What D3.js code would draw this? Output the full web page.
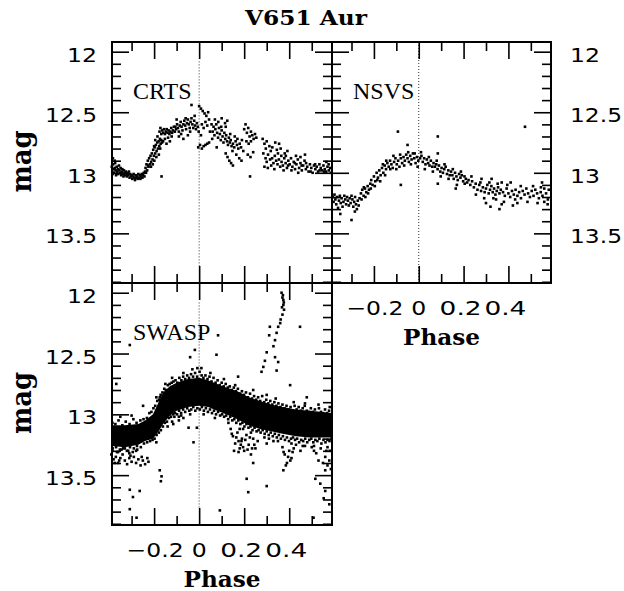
<!DOCTYPE html>
<html><head><meta charset="utf-8">
<script src="https://cdn.jsdelivr.net/npm/d3@7"></script>
<style>
html,body{margin:0;padding:0;background:#fff;}
svg{display:block;}
</style></head>
<body>
<svg id="c" width="624" height="591"></svg>
<script>
// ---------- DATA ----------
const title = "V651 Aur";
const panelNames = ["CRTS", "NSVS", "SWASP"];
const xMajorTicks = [-0.2, 0, 0.2, 0.4];
const xTickLabels = ["\u22120.2", "0", "0.2", "0.4"];
const xMinorTicks = [-0.3, -0.1, 0.1, 0.3, 0.5];
const yMajorTicks = [12, 12.5, 13, 13.5];
const yTickLabels = ["12", "12.5", "13", "13.5"];
const xAxisTitle = "Phase";
const yAxisTitle = "mag";
const xDomain = [-0.387, 0.59];
const yDomain = [11.92, 13.91];
const refLineCRTS = [12.08, 13.77];
const refLineNSVS = [11.92, 13.91];
const refLineSWASP = [12.08, 13.77];

const crts = [
[-0.388,12.95],[-0.386,12.99],[-0.384,13.01],[-0.382,12.93],[-0.380,12.97],[-0.378,13.00],[-0.375,12.96],[-0.373,12.92],[-0.371,12.98],[-0.369,13.02],
[-0.366,12.95],[-0.364,12.99],[-0.361,12.97],[-0.359,13.01],[-0.356,12.94],[-0.354,12.98],[-0.351,13.00],[-0.349,12.96],[-0.346,13.02],[-0.344,12.99],
[-0.341,12.97],[-0.339,13.01],[-0.336,13.03],[-0.334,12.98],[-0.331,13.00],[-0.329,13.02],[-0.326,12.99],[-0.323,13.01],[-0.321,13.03],[-0.318,13.00],
[-0.315,13.02],[-0.312,12.99],[-0.309,13.04],[-0.306,13.01],[-0.303,13.03],[-0.383,12.88],[-0.375,12.90],
[-0.300,13.02],[-0.297,13.05],[-0.294,13.03],[-0.291,13.01],[-0.288,13.04],[-0.285,13.06],[-0.282,13.02],[-0.279,13.04],[-0.276,13.03],[-0.273,13.05],
[-0.270,13.01],[-0.267,13.04],[-0.264,13.02],[-0.261,13.05],[-0.258,13.03],[-0.255,13.01],[-0.252,13.04],[-0.249,13.02],[-0.246,13.00],[-0.243,13.03],[-0.240,12.99],
[-0.238,12.96],[-0.234,12.93],[-0.231,12.98],[-0.228,12.90],[-0.225,12.95],[-0.222,12.88],[-0.219,12.93],[-0.216,12.86],[-0.213,12.91],[-0.210,12.84],
[-0.207,12.89],[-0.204,12.81],[-0.201,12.86],[-0.198,12.79],[-0.195,12.84],[-0.192,12.77],[-0.189,12.82],[-0.186,12.75],[-0.183,12.80],[-0.180,12.74],
[-0.177,12.78],[-0.174,12.72],[-0.171,12.76],[-0.168,12.73],[-0.165,12.75],[-0.167,13.03],
[-0.236,13.00],[-0.227,12.94],[-0.214,12.95],[-0.206,12.93],[-0.199,12.90],[-0.190,12.87],[-0.185,12.70],[-0.179,12.85],[-0.173,12.80],[-0.195,12.73],[-0.200,12.78],
[-0.176,12.66],[-0.172,12.63],[-0.168,12.68],[-0.164,12.65],[-0.160,12.67],[-0.156,12.64],[-0.152,12.68],[-0.148,12.66],[-0.144,12.64],[-0.140,12.67],
[-0.136,12.65],[-0.132,12.68],[-0.128,12.66],[-0.124,12.63],[-0.120,12.67],[-0.116,12.65],[-0.112,12.62],[-0.108,12.66],
[-0.160,12.74],[-0.152,12.72],[-0.145,12.76],[-0.138,12.71],[-0.130,12.74],[-0.122,12.70],
[-0.106,12.62],[-0.102,12.64],[-0.098,12.60],[-0.094,12.63],[-0.090,12.66],[-0.086,12.61],[-0.082,12.58],[-0.078,12.62],[-0.074,12.65],[-0.070,12.60],
[-0.066,12.57],[-0.062,12.61],[-0.058,12.64],[-0.054,12.59],[-0.050,12.56],[-0.046,12.60],[-0.042,12.63],[-0.038,12.58],[-0.034,12.55],[-0.030,12.60],
[-0.026,12.63],[-0.022,12.57],[-0.018,12.61],[-0.014,12.64],[-0.010,12.59],[-0.006,12.62],[-0.002,12.66],[-0.034,12.44],[-0.090,12.70],[-0.070,12.72],[-0.050,12.69],
[-0.100,12.56],[-0.080,12.68],[-0.060,12.55],[-0.040,12.66],[-0.020,12.53],
[0.000,12.45],[0.008,12.47],[0.016,12.49],[0.024,12.51],[0.032,12.53],[0.040,12.50],[0.012,12.60],[0.020,12.63],[0.028,12.58],[0.036,12.61],[0.044,12.56],
[-0.004,12.79],[0.004,12.77],[0.012,12.80],[0.020,12.78],[0.028,12.77],[0.036,12.76],[0.044,12.75],[0.048,12.66],[0.008,12.69],
[0.055,12.60],[0.060,12.66],[0.064,12.62],[0.068,12.69],[0.072,12.64],[0.076,12.60],[0.080,12.67],[0.084,12.71],[0.088,12.63],[0.092,12.68],
[0.096,12.73],[0.100,12.65],[0.104,12.70],[0.108,12.75],[0.112,12.67],[0.116,12.72],[0.120,12.69],[0.124,12.74],[0.128,12.77],[0.132,12.71],
[0.136,12.75],[0.140,12.73],[0.144,12.78],[0.150,12.76],[0.156,12.79],[0.162,12.74],[0.168,12.77],[0.174,12.80],[0.180,12.76],[0.186,12.79],
[0.070,12.56],[0.085,12.58],[0.100,12.55],[0.115,12.59],[0.125,12.57],
[0.058,12.72],[0.078,12.79],[0.098,12.62],[0.118,12.62],[0.138,12.68],[0.158,12.70],[0.148,12.82],[0.170,12.72],[0.190,12.73],
[0.118,12.84],[0.126,12.87],[0.134,12.90],[0.142,12.92],[0.150,12.94],[0.165,12.85],[0.178,12.88],[0.188,12.90],
[0.200,12.64],[0.206,12.60],[0.212,12.67],[0.218,12.63],[0.224,12.70],[0.230,12.66],[0.236,12.69],[0.242,12.72],[0.248,12.68],[0.254,12.71],
[0.210,12.74],[0.220,12.76],[0.230,12.74],[0.216,12.85],[0.228,12.87],[0.240,12.83],[0.226,13.03],[0.196,12.82],
[0.282,12.72],[0.290,12.76],[0.296,12.80],[0.300,12.74],[0.306,12.85],[0.312,12.78],[0.318,12.82],[0.324,12.88],[0.330,12.92],[0.336,12.86],
[0.342,12.90],[0.348,12.93],[0.354,12.89],[0.360,12.95],[0.366,12.91],[0.372,12.94],[0.378,12.88],[0.384,12.92],[0.390,12.96],[0.396,12.90],
[0.320,12.94],[0.334,12.97],[0.350,12.84],[0.362,12.80],[0.338,12.75],[0.355,12.76],[0.380,12.84],[0.392,12.82],[0.300,12.91],[0.290,12.95],
[0.285,12.84],[0.295,12.88],[0.305,12.96],[0.315,12.89],[0.325,12.79],[0.345,12.81],[0.365,12.86],[0.375,12.98],[0.395,12.94],[0.385,12.86],
[0.402,12.93],[0.408,12.88],[0.414,12.95],[0.420,12.91],[0.426,12.97],[0.432,12.93],[0.438,12.89],[0.444,12.96],[0.450,12.92],[0.456,12.98],
[0.462,12.94],[0.468,12.90],[0.474,12.97],[0.480,12.95],[0.486,12.99],[0.492,12.93],[0.498,12.96],[0.504,13.00],[0.510,12.94],[0.516,12.97],
[0.522,12.95],[0.528,12.99],[0.534,12.93],[0.540,12.96],[0.546,12.98],[0.552,12.94],[0.558,12.97],[0.564,12.99],[0.570,12.95],[0.576,12.98],
[0.582,12.96],[0.430,12.86],[0.450,12.87],[0.470,12.85],
[0.410,12.98],[0.425,12.92],[0.440,13.00],[0.455,12.94],[0.475,12.92],[0.495,12.99],[0.515,12.93],[0.535,12.98],[0.555,12.99],[0.575,12.93],[0.585,13.00],[0.565,12.91]
];

const nsvs = [
[-0.384,13.20],[-0.380,13.24],[-0.376,13.18],[-0.372,13.22],[-0.368,13.26],[-0.364,13.20],[-0.360,13.29],[-0.356,13.23],[-0.352,13.19],[-0.348,13.25],
[-0.344,13.21],[-0.340,13.28],[-0.336,13.24],[-0.332,13.19],[-0.328,13.22],[-0.324,13.26],[-0.320,13.20],[-0.316,13.23],[-0.312,13.27],[-0.308,13.21],
[-0.304,13.25],[-0.300,13.19],[-0.296,13.22],[-0.292,13.28],[-0.288,13.24],[-0.284,13.20],[-0.280,13.26],[-0.276,13.30],[-0.272,13.23],[-0.268,13.27],
[-0.264,13.21],[-0.350,13.34],[-0.300,13.39],[-0.285,13.32],
[-0.258,13.17],[-0.252,13.14],[-0.246,13.19],[-0.240,13.13],[-0.234,13.16],[-0.228,13.11],[-0.222,13.14],[-0.216,13.09],
[-0.255,13.22],[-0.245,13.12],[-0.238,13.20],[-0.226,13.17],[-0.214,13.13],[-0.196,13.11],[-0.185,13.06],[-0.172,13.07],[-0.160,12.93],[-0.150,13.02],
[-0.212,13.06],[-0.206,13.10],[-0.200,13.03],[-0.194,13.07],[-0.188,13.00],[-0.182,13.04],[-0.176,12.98],[-0.170,13.02],[-0.164,12.96],[-0.158,13.00],
[-0.152,12.94],[-0.146,12.97],[-0.140,12.92],[-0.134,12.95],[-0.128,12.90],[-0.122,12.93],[-0.116,12.96],[-0.110,12.91],[-0.104,12.88],[-0.098,12.93],
[-0.092,12.90],[-0.086,12.95],[-0.080,12.88],[-0.074,12.92],[-0.093,12.66],[-0.080,13.10],
[-0.145,12.90],[-0.127,12.97],[-0.113,12.86],[-0.100,12.97],[-0.083,12.85],[-0.065,12.94],[-0.047,12.83],[-0.035,12.93],[-0.018,12.84],[-0.005,12.95],
[-0.068,12.87],[-0.062,12.90],[-0.056,12.85],[-0.050,12.88],[-0.044,12.91],[-0.038,12.86],[-0.032,12.89],[-0.026,12.84],[-0.020,12.88],[-0.014,12.92],
[-0.008,12.87],[-0.002,12.90],[-0.050,12.77],
[0.006,12.88],[0.012,12.86],[0.018,12.91],[0.024,12.88],[0.030,12.93],[0.036,12.89],[0.042,12.92],[0.048,12.94],[0.054,12.90],[0.060,12.95],[0.066,12.92],
[0.072,12.95],[0.078,12.93],[0.084,12.97],[0.090,12.94],[0.096,12.99],[0.102,12.96],[0.108,13.00],[0.114,12.97],[0.120,12.95],[0.126,13.01],
[0.132,12.98],[0.138,13.02],[0.144,12.99],[0.085,12.70],[0.085,12.84],[0.085,13.09],
[0.010,12.83],[0.027,12.97],[0.045,12.87],[0.063,12.99],[0.080,12.90],[0.098,13.03],[0.115,12.93],[0.133,13.05],[0.152,12.97],[0.170,13.10],
[0.188,12.99],[0.205,13.09],[0.165,13.13],
[0.150,13.02],[0.156,13.05],[0.162,13.00],[0.168,13.03],[0.174,13.06],[0.180,13.01],[0.186,13.04],[0.192,13.02],[0.198,13.07],[0.204,13.03],
[0.210,13.05],[0.216,13.08],
[0.222,13.06],[0.230,13.10],[0.238,13.07],[0.246,13.12],[0.254,13.09],[0.262,13.14],[0.270,13.10],[0.278,13.15],[0.286,13.12],[0.294,13.16],
[0.300,13.13],[0.306,13.10],[0.312,13.17],[0.318,13.14],[0.324,13.11],[0.330,13.16],[0.336,13.13],[0.342,13.18],[0.348,13.15],[0.354,13.12],
[0.360,13.17],[0.366,13.14],[0.300,13.25],[0.320,13.28],[0.345,13.22],[0.360,13.30],[0.370,13.26],[0.280,13.05],[0.325,13.05],[0.370,13.08],
[0.235,13.03],[0.255,13.18],[0.275,13.08],[0.292,13.21],[0.315,13.08],[0.333,13.21],[0.352,13.09],[0.380,13.24],[0.395,13.10],[0.430,13.22],
[0.455,13.11],[0.485,13.24],[0.510,13.11],[0.530,13.25],[0.545,13.12],[0.580,13.14],
[0.376,13.16],[0.384,13.19],[0.392,13.13],[0.400,13.17],[0.408,13.20],[0.416,13.15],[0.424,13.18],[0.432,13.14],[0.440,13.19],[0.448,13.16],
[0.456,13.21],[0.464,13.15],[0.472,13.18],[0.480,13.13],[0.488,13.17],[0.496,13.20],[0.504,13.15],[0.512,13.19],[0.520,13.14],[0.528,13.17],
[0.536,13.21],[0.544,13.16],[0.552,13.19],[0.560,13.13],[0.568,13.17],[0.576,13.22],
[0.474,12.62],[0.410,13.08],[0.420,13.27],[0.440,13.25],[0.550,13.08],[0.560,13.24],[0.575,13.26]
];

// SWASP dense core: [phase, bright edge mag, faint edge mag]
const swaspCore = [
[-0.387,13.09,13.26],[-0.33,13.09,13.27],[-0.27,13.08,13.25],[-0.24,13.05,13.22],[-0.205,13.00,13.20],[-0.18,12.90,13.14],
[-0.16,12.82,13.08],[-0.13,12.77,13.01],[-0.10,12.74,12.97],[-0.05,12.71,12.94],[0.0,12.70,12.93],[0.04,12.72,12.94],
[0.08,12.75,12.97],[0.12,12.78,13.00],[0.17,12.81,13.04],[0.22,12.86,13.09],[0.27,12.89,13.12],[0.32,12.92,13.14],
[0.37,12.94,13.16],[0.43,12.96,13.18],[0.49,12.97,13.19],[0.59,12.99,13.19]
];

const swasp = [
// lower secondary stripe at early phase
[-0.39,13.33],[-0.38,13.37],[-0.37,13.35],[-0.36,13.40],[-0.35,13.36],[-0.34,13.33],[-0.33,13.38],[-0.32,13.41],[-0.31,13.36],[-0.30,13.39],
[-0.29,13.35],[-0.28,13.40],[-0.27,13.37],[-0.26,13.42],[-0.25,13.38],[-0.24,13.41],[-0.23,13.36],[-0.225,13.39],[-0.385,13.30],[-0.365,13.31],
[-0.345,13.29],[-0.315,13.30],[-0.295,13.31],[-0.275,13.29],[-0.33,13.28],[-0.28,13.30],[-0.355,13.38],[-0.305,13.34],[-0.255,13.35],[-0.375,13.40],
// bright fringe of band
[-0.385,13.07],[-0.372,13.08],[-0.358,13.05],[-0.341,13.09],[-0.326,13.06],[-0.309,13.08],[-0.292,13.04],[-0.278,13.07],[-0.261,13.05],[-0.247,13.04],
[-0.232,13.03],[-0.221,12.99],[-0.212,12.98],[-0.203,12.95],[-0.195,12.93],[-0.186,12.89],[-0.178,12.88],[-0.171,12.84],[-0.163,12.82],[-0.155,12.79],
[-0.148,12.80],[-0.139,12.76],[-0.131,12.75],[-0.122,12.74],[-0.114,12.73],[-0.105,12.72],[-0.097,12.74],[-0.088,12.70],[-0.079,12.72],[-0.071,12.69],
[-0.062,12.71],[-0.053,12.68],[-0.045,12.70],[-0.036,12.67],[-0.027,12.69],[-0.018,12.66],[-0.009,12.69],[0.002,12.65],[0.011,12.68],[0.019,12.70],
[0.028,12.68],[0.037,12.71],[0.046,12.69],[0.055,12.73],[0.064,12.70],[0.073,12.74],[0.082,12.72],[0.091,12.76],[0.100,12.74],[0.109,12.77],
[0.118,12.75],[0.127,12.78],[0.136,12.77],[0.145,12.80],[0.154,12.78],[0.163,12.81],[0.172,12.79],[0.181,12.83],[0.190,12.81],[0.199,12.84],
[0.208,12.82],[0.217,12.86],[0.226,12.83],[0.235,12.87],[0.244,12.85],[0.253,12.88],[0.262,12.86],[0.271,12.89],[0.280,12.85],[0.289,12.90],
[0.298,12.88],[0.307,12.91],[0.316,12.89],[0.325,12.92],[0.334,12.90],[0.343,12.93],[0.352,12.91],[0.361,12.94],[0.370,12.92],[0.379,12.95],
[0.388,12.93],[0.397,12.96],[0.406,12.94],[0.415,12.97],[0.424,12.93],[0.433,12.96],[0.442,12.94],[0.451,12.97],[0.460,12.95],[0.469,12.93],
[0.478,12.97],[0.487,12.98],[0.496,12.95],[0.505,12.98],[0.514,12.96],[0.523,12.99],[0.532,12.95],[0.541,12.98],[0.550,12.99],[0.559,12.96],
[0.568,12.99],[0.577,12.97],[0.586,13.00],
[-0.350,13.02],[-0.300,13.01],[-0.190,12.86],[-0.150,12.75],[-0.120,12.70],[-0.070,12.66],[-0.030,12.63],[0.010,12.62],[0.050,12.66],[0.110,12.71],
[0.160,12.76],[0.240,12.80],[0.300,12.84],[0.340,12.87],[0.420,12.90],[0.470,12.91],[0.530,12.92],[0.580,12.94],
// faint fringe of band
[-0.384,13.28],[-0.369,13.27],[-0.352,13.29],[-0.338,13.28],[-0.321,13.30],[-0.307,13.27],[-0.290,13.28],[-0.276,13.26],[-0.259,13.27],[-0.245,13.24],
[-0.231,13.23],[-0.218,13.22],[-0.207,13.21],[-0.198,13.20],[-0.189,13.17],[-0.179,13.15],[-0.170,13.13],[-0.161,13.10],[-0.152,13.07],[-0.143,13.06],
[-0.134,13.03],[-0.125,13.02],[-0.116,13.00],[-0.107,12.99],[-0.098,13.00],[-0.089,12.97],[-0.080,12.99],[-0.071,12.96],[-0.062,12.98],[-0.053,12.95],
[-0.044,12.97],[-0.035,12.96],[-0.026,12.94],[-0.017,12.97],[-0.008,12.95],[0.003,12.96],[0.012,12.94],[0.021,12.97],[0.030,12.95],[0.039,12.98],
[0.048,12.96],[0.057,12.99],[0.066,12.97],[0.075,13.00],[0.084,12.98],[0.093,13.01],[0.102,13.00],[0.111,13.02],[0.120,13.01],[0.129,13.04],
[0.138,13.02],[0.147,13.05],[0.156,13.04],[0.165,13.07],[0.174,13.05],[0.183,13.08],[0.192,13.07],[0.201,13.10],[0.210,13.08],[0.219,13.11],
[0.228,13.10],[0.237,13.13],[0.246,13.11],[0.255,13.14],[0.264,13.13],[0.273,13.15],[0.282,13.13],[0.291,13.16],[0.300,13.14],[0.309,13.17],
[0.318,13.15],[0.327,13.18],[0.336,13.16],[0.345,13.19],[0.354,13.17],[0.363,13.20],[0.372,13.18],[0.381,13.21],[0.390,13.19],[0.399,13.22],
[0.408,13.20],[0.417,13.19],[0.426,13.21],[0.435,13.20],[0.444,13.23],[0.453,13.21],[0.462,13.22],[0.471,13.20],[0.480,13.23],[0.489,13.21],
[0.498,13.20],[0.507,13.23],[0.516,13.21],[0.525,13.22],[0.534,13.20],[0.543,13.24],[0.552,13.21],[0.561,13.23],[0.570,13.21],[0.579,13.22],[0.588,13.20],
[-0.360,13.31],[-0.310,13.32],[-0.190,13.23],[-0.140,13.10],[-0.090,13.02],[-0.040,13.00],[0.020,13.00],[0.070,13.03],[0.130,13.07],[0.180,13.12],
[0.230,13.15],[0.290,13.19],[0.350,13.22],[0.410,13.24],[0.460,13.26],[0.510,13.26],[0.570,13.27],
// faint lumps under the band
[0.14,13.12],[0.15,13.18],[0.16,13.24],[0.17,13.15],[0.18,13.28],[0.19,13.20],[0.20,13.30],[0.21,13.17],[0.22,13.25],[0.23,13.33],
[0.24,13.20],[0.25,13.28],[0.26,13.22],[0.155,13.30],[0.175,13.22],[0.195,13.12],[0.37,13.27],[0.38,13.33],[0.39,13.40],[0.40,13.30],
[0.41,13.36],[0.42,13.28],[0.43,13.25],[0.385,13.42],[-0.13,13.00],[-0.12,13.06],[-0.11,13.02],[-0.09,13.05],[-0.08,13.01],[0.50,13.27],
[0.52,13.32],[0.54,13.28],[0.56,13.35],[0.58,13.30],[0.55,13.40],[0.47,13.26],[0.45,13.30],[0.33,13.22],[0.30,13.24],[0.31,13.20],
[0.165,13.19],[0.185,13.25],[0.205,13.21],[0.215,13.29],[0.225,13.19],[0.245,13.25],[0.175,13.31],[0.195,13.27],[0.235,13.28],[0.145,13.16],
[0.395,13.35],[0.405,13.38],[0.375,13.31],[0.415,13.31],[0.53,13.38],[0.57,13.42],[0.585,13.45],[0.51,13.30],[0.565,13.30],[-0.115,13.08],
// bright streak near phase 0.35
[0.366,12.00],[0.370,12.04],[0.374,12.10],[0.377,12.14],[0.370,12.18],[0.362,12.22],[0.351,12.28],[0.344,12.33],[0.337,12.39],[0.330,12.44],
[0.314,12.28],[0.311,12.35],[0.300,12.49],[0.292,12.56],[0.285,12.61],[0.277,12.65],[0.337,12.53],[0.351,12.57],[0.344,12.64],[0.374,12.06],
[0.372,12.02],[0.376,12.08],[0.368,12.12],[0.360,12.25],
// scattered outliers
[-0.368,12.75],[-0.308,12.43],[-0.308,13.62],[-0.264,13.63],[-0.294,13.68],[-0.278,13.85],[-0.308,13.78],[-0.175,13.46],[-0.167,13.51],[-0.170,13.55],
[-0.249,12.93],[-0.019,12.47],[-0.040,12.53],[0.084,12.35],[0.077,12.51],[-0.008,12.62],[-0.025,13.23],[-0.047,13.11],[-0.010,13.11],[-0.070,13.03],
[0.092,13.79],[0.211,13.53],[0.218,13.64],[0.300,13.59],[0.240,13.40],[0.188,13.22],[0.374,13.46],[0.516,13.53],[0.538,13.57],[0.560,13.63],
[0.553,13.69],[0.578,13.74],[0.508,13.85],[0.560,13.46],[0.578,13.38],[0.448,12.28],[0.404,12.76],[0.478,12.86],[0.173,12.69],[-0.175,12.86]
];

// ---------- LAYOUT ----------
const svg = d3.select("#c");
const panels = [
  {name: panelNames[0], data: crts, ref: refLineCRTS, x0:112, x1:332, y0:42, y1:283, yLab:"left", xLab:false},
  {name: panelNames[1], data: nsvs, ref: refLineNSVS, x0:332, x1:551, y0:42, y1:283, yLab:"right", xLab:true},
  {name: panelNames[2], data: swasp, ref: refLineSWASP, x0:112, x1:332, y0:283, y1:525, yLab:"left", xLab:true, core: swaspCore}
];
const numFont = "'DejaVu Sans', sans-serif";
const serif = "'DejaVu Serif', serif";
const yMinor = d3.range(11.9, 13.95, 0.1).map(v => Math.round(v*10)/10)
  .filter(v => v >= yDomain[0] && v <= yDomain[1] && !yMajorTicks.includes(v));
const xLabelWidths = [57, 15, 42, 42];
const yLabelWidths = [30, 52, 30, 52];

svg.append("text").attr("x", 306).attr("y", 25).attr("text-anchor", "middle")
  .attr("font-family", serif).attr("font-size", 21).attr("font-weight", "bold").attr("textLength", 122)
  .attr("lengthAdjust", "spacingAndGlyphs").text(title);

panels.forEach(p => {
  const x = d3.scaleLinear().domain(xDomain).range([p.x0, p.x1]);
  const y = d3.scaleLinear().domain(yDomain).range([p.y0, p.y1]);
  const g = svg.append("g");

  g.append("line").attr("x1", x(0)).attr("x2", x(0)).attr("y1", y(p.ref[0])).attr("y2", y(p.ref[1]))
    .attr("stroke", "#333").attr("stroke-width", 1).attr("stroke-dasharray", "1,2");

  if (p.core) {
    g.append("path").datum(p.core)
      .attr("d", d3.area().x(d => x(d[0])).y0(d => y(d[1])).y1(d => y(d[2])))
      .attr("fill", "#000");
  }
  const s = 2.6;
  g.selectAll("rect.pt").data(p.data).join("rect").attr("class", "pt")
    .attr("x", d => x(d[0]) - s/2).attr("y", d => y(d[1]) - s/2)
    .attr("width", s).attr("height", s).attr("fill", "#000");

  const mk = (axisFn, scale, vals, len, tr) => {
    const a = g.append("g").attr("transform", tr)
      .call(axisFn(scale).tickValues(vals).tickSizeInner(-len).tickSizeOuter(0).tickFormat(() => ""));
    a.select(".domain").remove();
    a.selectAll("line").attr("stroke", "#000").attr("stroke-width", 1.6);
  };
  mk(d3.axisTop, x, xMajorTicks, 17, `translate(0,${p.y0})`);
  mk(d3.axisTop, x, xMinorTicks, 9, `translate(0,${p.y0})`);
  mk(d3.axisBottom, x, xMajorTicks, 17, `translate(0,${p.y1})`);
  mk(d3.axisBottom, x, xMinorTicks, 9, `translate(0,${p.y1})`);
  mk(d3.axisLeft, y, yMajorTicks, 17, `translate(${p.x0},0)`);
  mk(d3.axisLeft, y, yMinor, 9, `translate(${p.x0},0)`);
  mk(d3.axisRight, y, yMajorTicks, 17, `translate(${p.x1},0)`);
  mk(d3.axisRight, y, yMinor, 9, `translate(${p.x1},0)`);

  g.append("rect").attr("x", p.x0).attr("y", p.y0).attr("width", p.x1 - p.x0).attr("height", p.y1 - p.y0)
    .attr("fill", "none").attr("stroke", "#000").attr("stroke-width", 2);

  g.append("text").attr("x", p.x0 + 21).attr("y", p.y0 + 57)
    .attr("font-family", "'Liberation Serif', serif").attr("font-size", 24).text(p.name);

  yMajorTicks.forEach((v, i) => {
    const t = g.append("text").attr("y", y(v) + 10).attr("font-family", numFont).attr("font-size", 20)
      .attr("textLength", yLabelWidths[i]).attr("lengthAdjust", "spacingAndGlyphs").text(yTickLabels[i]);
    if (p.yLab === "left") t.attr("x", p.x0 - 15).attr("text-anchor", "end");
    else t.attr("x", p.x1 + 19).attr("text-anchor", "start");
  });
  if (p.yLab === "left") {
    const cy = (p.y0 + p.y1) / 2 - 1;
    g.append("text").attr("transform", `translate(31,${cy}) rotate(-90)`).attr("text-anchor", "middle")
      .attr("font-family", serif).attr("font-size", 27).attr("font-weight", "bold").attr("textLength", 62)
      .attr("lengthAdjust", "spacingAndGlyphs").text(yAxisTitle);
  }
  if (p.xLab) {
    xMajorTicks.forEach((v, i) => {
      const dx = v > 0 ? -3 : (v < 0 ? 1 : 0);
      g.append("text").attr("x", x(v) + dx).attr("y", p.y1 + 32).attr("text-anchor", "middle")
        .attr("font-family", numFont).attr("font-size", 20)
        .attr("textLength", xLabelWidths[i]).attr("lengthAdjust", "spacingAndGlyphs").text(xTickLabels[i]);
    });
    g.append("text").attr("x", (p.x0 + p.x1) / 2).attr("y", p.y1 + 62).attr("text-anchor", "middle")
      .attr("font-family", serif).attr("font-size", 22).attr("font-weight", "bold").attr("textLength", 77)
      .attr("lengthAdjust", "spacingAndGlyphs").text(xAxisTitle);
  }
});
</script>
</body></html>
